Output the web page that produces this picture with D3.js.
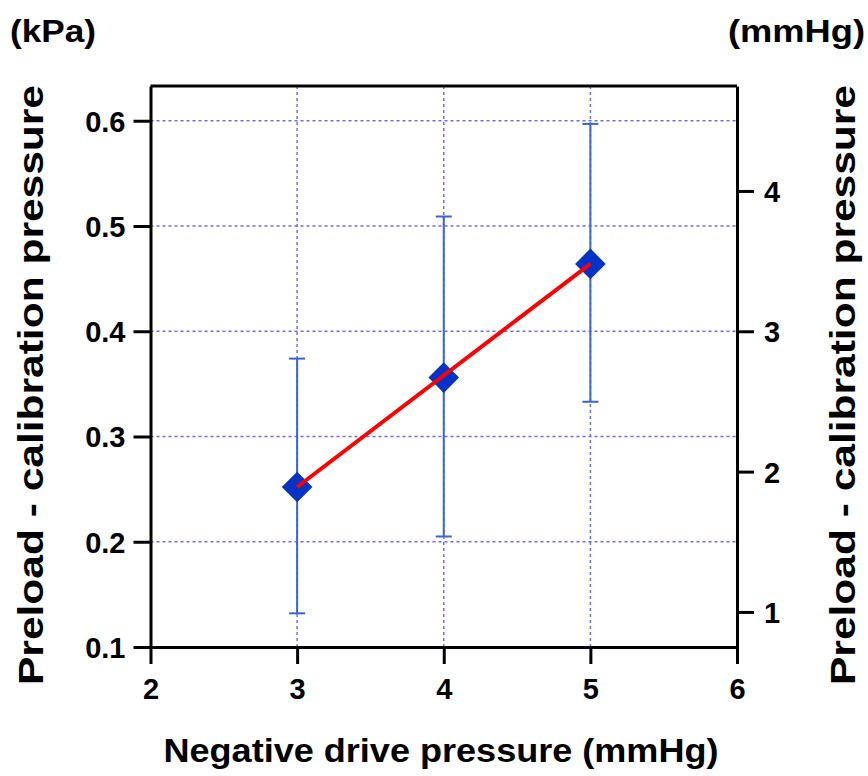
<!DOCTYPE html>
<html>
<head>
<meta charset="utf-8">
<script src="https://cdn.jsdelivr.net/npm/d3@7"></script>
<style>
  html, body { margin: 0; padding: 0; background: #fff; }
  svg { display: block; font-family: "Liberation Sans", Arial, sans-serif; }
</style>
</head>
<body>
<svg id="chart" width="868" height="776"></svg>
<script>
// ── Data ──────────────────────────────────────────────────────────────────
const drivePressure = [3, 4, 5];                 // mmHg
const meanKPa       = [0.252, 0.356, 0.464];     // preload - calibration
const upperKPa      = [0.374, 0.509, 0.597];
const lowerKPa      = [0.132, 0.205, 0.333];
const xTicks        = [2, 3, 4, 5, 6];
const yTicksKPa     = [0.1, 0.2, 0.3, 0.4, 0.5, 0.6];
const yTicksMmHg    = [1, 2, 3, 4];
const KPA_PER_MMHG  = 0.133322;

const svg = d3.select("#chart");

const plot = { left: 150.5, right: 737, top: 86, bottom: 647 };

const x = d3.scaleLinear().domain([2, 6]).range([plot.left, plot.right]);
const y = d3.scaleLinear().domain([0.1, 0.633]).range([plot.bottom, plot.top]);
const yR = d3.scaleLinear()
  .domain(y.domain().map(v => v / KPA_PER_MMHG))
  .range([plot.bottom, plot.top]);

// ── Grid ──────────────────────────────────────────────────────────────────
const grid = svg.append("g")
  .attr("stroke", "#6b6bff").attr("stroke-width", 1.5)
  .attr("stroke-dasharray", "3,3");

grid.selectAll(".gh")
  .data(yTicksKPa.filter(d => d > 0.1)).join("line").attr("class", "gh")
  .attr("x1", plot.left).attr("x2", plot.right)
  .attr("y1", d => y(d)).attr("y2", d => y(d));

grid.selectAll(".gv")
  .data(xTicks.filter(d => d > 2 && d < 6)).join("line").attr("class", "gv")
  .attr("x1", d => x(d)).attr("x2", d => x(d))
  .attr("y1", plot.top).attr("y2", plot.bottom);

// ── Frame / axes ──────────────────────────────────────────────────────────
function styleAxis(ax) {
  ax.select(".domain").attr("stroke", "#000").attr("stroke-width", 3);
  ax.selectAll(".tick line").attr("stroke", "#000").attr("stroke-width", 3);
  ax.selectAll(".tick text")
    .attr("fill", "#000").attr("font-size", "29px").attr("font-weight", "bold");
}

svg.append("line")
  .attr("x1", plot.left).attr("x2", plot.right)
  .attr("y1", plot.top).attr("y2", plot.top)
  .attr("stroke", "#000").attr("stroke-width", 3);

svg.append("g")
  .attr("transform", `translate(${plot.left},0)`)
  .call(d3.axisLeft(y).tickValues(yTicksKPa).tickFormat(d3.format(".1f"))
    .tickSize(17).tickSizeOuter(0).tickPadding(8))
  .call(styleAxis)
  .call(ax => ax.selectAll(".tick text").attr("dy", "0.36em"));

svg.append("g")
  .attr("transform", `translate(${plot.right},0)`)
  .call(d3.axisRight(yR).tickValues(yTicksMmHg).tickFormat(d3.format("d"))
    .tickSize(17).tickSizeOuter(0).tickPadding(10))
  .call(styleAxis)
  .call(ax => ax.selectAll(".tick text").attr("dy", "0.36em"));

svg.append("g")
  .attr("transform", `translate(0,${plot.bottom})`)
  .call(d3.axisBottom(x).tickValues(xTicks).tickFormat(d3.format("d"))
    .tickSize(17).tickSizeOuter(0).tickPadding(14))
  .call(styleAxis);

// ── Error bars ────────────────────────────────────────────────────────────
const pts = drivePressure.map((d, i) => ({
  x: d, mean: meanKPa[i], hi: upperKPa[i], lo: lowerKPa[i]
}));

const eb = svg.append("g").attr("stroke", "#3a62dc").attr("stroke-width", 2);
eb.selectAll(".ev").data(pts).join("line").attr("class", "ev")
  .attr("x1", d => x(d.x)).attr("x2", d => x(d.x))
  .attr("y1", d => y(d.hi)).attr("y2", d => y(d.lo));
[["hi"], ["lo"]].forEach(([k]) => {
  eb.selectAll(`.cap-${k}`).data(pts).join("line").attr("class", `cap-${k}`)
    .attr("x1", d => x(d.x) - 8).attr("x2", d => x(d.x) + 8)
    .attr("y1", d => y(d[k])).attr("y2", d => y(d[k]));
});

// ── Markers ───────────────────────────────────────────────────────────────
const diamond = d3.symbol(d3.symbolSquare, 470)();
svg.append("g").selectAll("path").data(pts).join("path")
  .attr("d", diamond)
  .attr("transform", d => `translate(${x(d.x)},${y(d.mean)}) rotate(45)`)
  .attr("fill", "#0433c6");

// ── Fit line ──────────────────────────────────────────────────────────────
const fit = [pts[0], pts[pts.length - 1]];
svg.append("path")
  .datum(fit)
  .attr("d", d3.line().x(d => x(d.x)).y(d => y(d.mean)))
  .attr("stroke", "#ff0000").attr("stroke-width", 4).attr("fill", "none");

// ── Titles ────────────────────────────────────────────────────────────────
const title = (sel) => sel.attr("fill", "#000").attr("font-weight", "bold")
  .attr("lengthAdjust", "spacingAndGlyphs");

svg.append("text").call(title)
  .attr("x", 10).attr("y", 42).attr("font-size", "32px")
  .attr("textLength", 86).text("(kPa)");

svg.append("text").call(title)
  .attr("x", 728).attr("y", 42).attr("font-size", "32px")
  .attr("textLength", 137).text("(mmHg)");

svg.append("text").call(title)
  .attr("x", 441).attr("y", 762).attr("font-size", "34px")
  .attr("text-anchor", "middle").attr("textLength", 555)
  .text("Negative drive pressure (mmHg)");

svg.append("text").call(title)
  .attr("transform", "translate(43,385) rotate(-90)")
  .attr("font-size", "35px").attr("text-anchor", "middle")
  .attr("textLength", 600)
  .text("Preload - calibration pressure");

svg.append("text").call(title)
  .attr("transform", "translate(855,385) rotate(-90)")
  .attr("font-size", "35px").attr("text-anchor", "middle")
  .attr("textLength", 600)
  .text("Preload - calibration pressure");
</script>
</body>
</html>
